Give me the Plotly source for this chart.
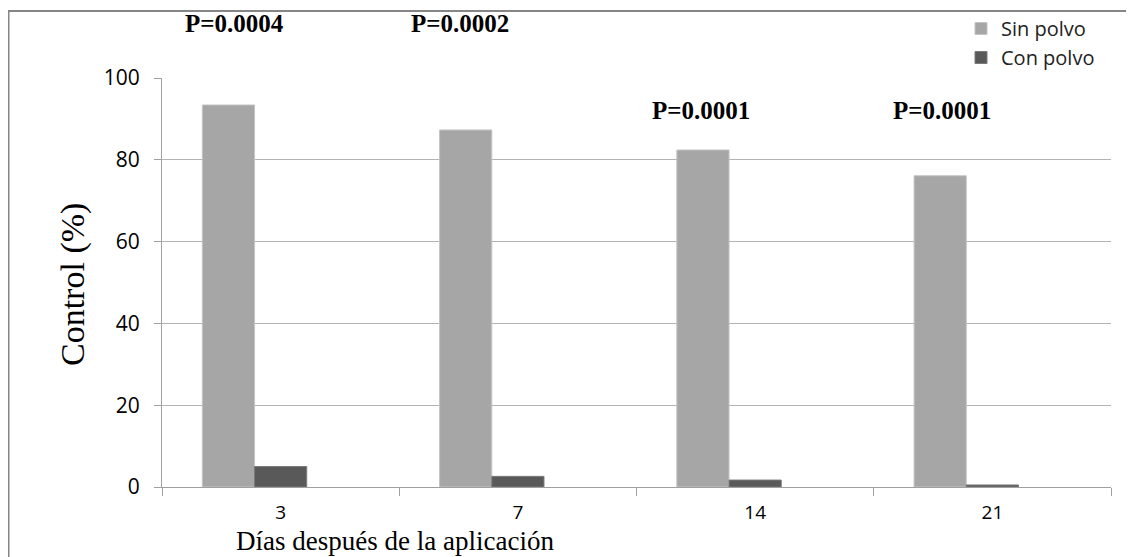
import plotly.graph_objects as go

categories = ["3", "7", "14", "21"]
sin_polvo = [93.4, 87.3, 82.4, 76.1]
con_polvo = [5.0, 2.6, 1.7, 0.5]
p_labels = ["P=0.0004", "P=0.0002", "P=0.0001", "P=0.0001"]
y_ticks = [0, 20, 40, 60, 80, 100]

W, H = 1134, 557
# plot area in window pixels (page has an 8px body margin)
PX0, PX1, PY0, PY1 = 162, 1111, 78, 487
OFF = 8
L = PX0 - OFF
T = PY0 - OFF
pw = PX1 - PX0
ph = PY1 - PY0
R = W - L - pw
B = H - T - ph

fig = go.Figure()
fig.add_trace(go.Bar(
    x=categories, y=sin_polvo, name="Sin polvo",
    marker=dict(color="#a6a6a6", line=dict(color="#c4c4c4", width=1)),
    width=0.22, offset=-0.33,
))
fig.add_trace(go.Bar(
    x=categories, y=con_polvo, name="Con polvo",
    marker=dict(color="#595959", line=dict(color="#7a7a7a", width=1)),
    width=0.22, offset=-0.11,
))

def px2paper_x(px):
    return (px - PX0) / pw

def px2paper_y(py):
    return (PY1 - py) / ph

ann = []
ann_y = [23, 23, 110, 110]
ann_shift = [-46, -58, -54, -50]
for i, (txt, yy, sh) in enumerate(zip(p_labels, ann_y, ann_shift)):
    ann.append(dict(x=i, y=px2paper_y(yy), xref="x", yref="paper", text="<b>" + txt + "</b>",
                    showarrow=False, xshift=sh, xanchor="center", yanchor="middle",
                    font=dict(family="Liberation Serif", size=25, color="#000")))

ann.append(dict(x=px2paper_x(395), y=px2paper_y(557), xref="paper", yref="paper",
                text="Días después de la aplicación", showarrow=False,
                xanchor="center", yanchor="bottom", borderpad=0,
                font=dict(family="Liberation Serif", size=27, color="#000")))
ann.append(dict(x=px2paper_x(73), y=px2paper_y(285), xref="paper", yref="paper",
                text="Control (%)", showarrow=False, textangle=-90,
                xanchor="center", yanchor="middle",
                font=dict(family="Liberation Serif", size=34, color="#000")))

shapes = [dict(type="rect", xref="paper", yref="paper",
               x0=px2paper_x(8.5), x1=px2paper_x(1132), y0=px2paper_y(600), y1=px2paper_y(11),
               line=dict(color="#868686", width=2), fillcolor="rgba(0,0,0,0)", layer="below")]

fig.update_layout(
    width=W, height=H,
    margin=dict(l=L, r=R, t=T, b=B, autoexpand=False),
    paper_bgcolor="white", plot_bgcolor="white",
    barmode="overlay",
    showlegend=True,
    legend=dict(x=px2paper_x(961), y=px2paper_y(9), xanchor="left", yanchor="top",
                font=dict(family="Open Sans", size=20, color="#222"),
                bgcolor="rgba(0,0,0,0)", itemwidth=30),
    xaxis=dict(type="category", range=[-0.5, 3.5], tickson="boundaries", ticks="outside", ticklen=8,
               tickcolor="#a0a0a0", showline=True, linecolor="#a0a0a0", linewidth=1,
               showgrid=False, ticklabelstandoff=8, automargin=False,
               tickfont=dict(family="Open Sans", size=19, color="#000")),
    yaxis=dict(range=[0, 100], tickvals=y_ticks, ticks="outside", ticklen=7,
               tickcolor="#a0a0a0", showline=True, linecolor="#a0a0a0", linewidth=1,
               showgrid=True, gridcolor="#b3b3b3", gridwidth=1, zeroline=False,
               ticklabelstandoff=10, automargin=False,
               tickfont=dict(family="Open Sans", size=21, color="#000")),
    annotations=ann,
    shapes=shapes,
)
fig.write_html("out.html")
